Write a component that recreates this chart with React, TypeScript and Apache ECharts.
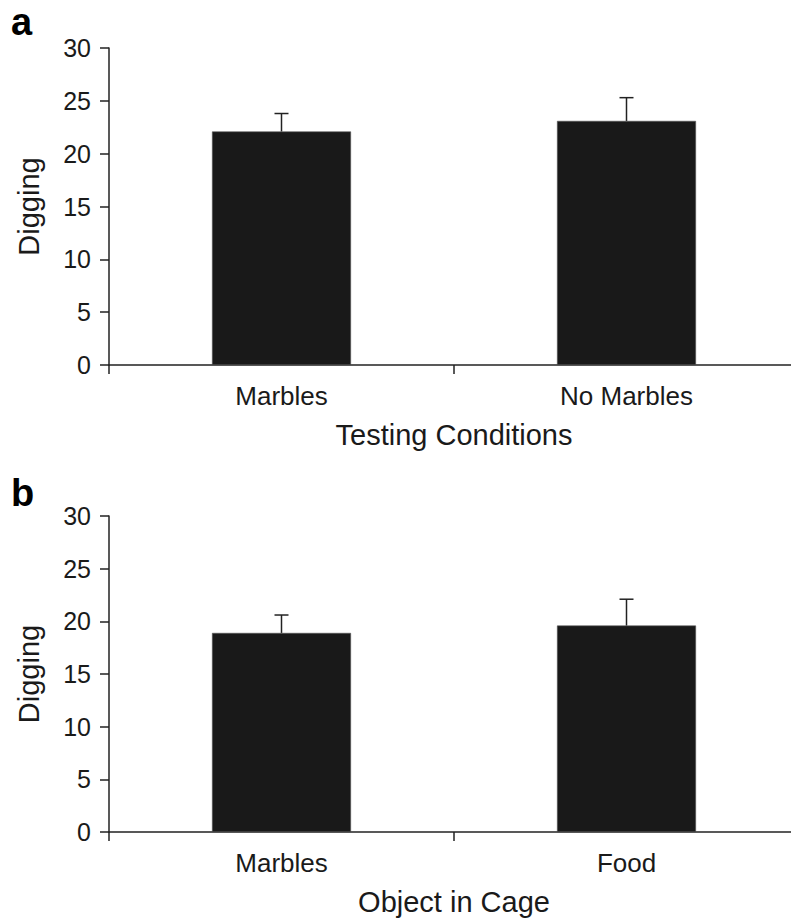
import React, { useEffect, useRef } from "react";
import * as echarts from "echarts";

const categoriesA = ["Marbles", "No Marbles"];
const meansA = [22.1, 23.1];
const errTopA = [23.8, 25.3];
const categoriesB = ["Marbles", "Food"];
const meansB = [18.9, 19.6];
const errTopB = [20.6, 22.1];
const yTicks = [0, 5, 10, 15, 20, 25, 30];
const titleA = "Testing Conditions";
const titleB = "Object in Cage";
const yName = "Digging";

const FONT = "'Liberation Sans', Arial, Helvetica, sans-serif";
const INK = "#1a1a1a";

export default function App() {
  const ref = useRef<HTMLDivElement>(null);
  useEffect(() => {
    if (!ref.current) return;
    const chart = echarts.init(ref.current, undefined, { renderer: "svg" });
    const xAxisBase = (cats: string[], name: string, gridIndex: number) => ({
      type: "category",
      gridIndex,
      data: cats,
      boundaryGap: true,
      name,
      nameLocation: "middle",
      nameGap: 55,
      nameTextStyle: { fontFamily: FONT, fontSize: 29, color: INK },
      axisLine: { show: true, lineStyle: { color: "#222", width: 1.5 } },
      axisTick: { show: true, inside: false, length: 9, alignWithLabel: false, lineStyle: { color: "#222", width: 1.5 } },
      axisLabel: { fontFamily: FONT, fontSize: 26, color: INK, margin: 18 },
      splitLine: { show: false },
    });
    const yAxisBase = (gridIndex: number) => ({
      type: "value",
      gridIndex,
      min: yTicks[0],
      max: yTicks[yTicks.length - 1],
      interval: 5,
      name: yName,
      nameLocation: "middle",
      nameGap: 66,
      nameRotate: 90,
      nameTextStyle: { fontFamily: FONT, fontSize: 29, color: INK },
      axisLine: { show: true, lineStyle: { color: "#222", width: 1.5 } },
      axisTick: { show: true, inside: false, length: 9, lineStyle: { color: "#222", width: 1.5 } },
      axisLabel: { fontFamily: FONT, fontSize: 25, color: INK, margin: 18 },
      splitLine: { show: false },
    });
    const errRender = (params: any, api: any) => {
      const x = api.value(0);
      const base = api.coord([x, api.value(1)]);
      const top = api.coord([x, api.value(2)]);
      const style = { stroke: "#222", lineWidth: 1.5 };
      return {
        type: "group",
        children: [
          { type: "line", shape: { x1: top[0], y1: base[1], x2: top[0], y2: top[1] }, style },
          { type: "line", shape: { x1: top[0] - 7, y1: top[1], x2: top[0] + 7, y2: top[1] }, style },
        ],
      };
    };
    chart.setOption({
      animation: false,
      backgroundColor: "#ffffff",
      grid: [
        { left: 109, top: 48, width: 690, height: 317, outerBoundsMode: "none", containLabel: false },
        { left: 109, top: 516, width: 690, height: 316, outerBoundsMode: "none", containLabel: false },
      ],
      xAxis: [xAxisBase(categoriesA, titleA, 0), xAxisBase(categoriesB, titleB, 1)],
      yAxis: [yAxisBase(0), yAxisBase(1)],
      graphic: [
        { type: "text", left: 11, top: 3, style: { text: "a", fontFamily: FONT, fontWeight: "bold", fontSize: 38, fill: "#000" } },
        { type: "text", left: 11, top: 474, style: { text: "b", fontFamily: FONT, fontWeight: "bold", fontSize: 38, fill: "#000" } },
      ],
      series: [
        {
          type: "bar",
          xAxisIndex: 0,
          yAxisIndex: 0,
          data: meansA,
          barWidth: 139,
          itemStyle: { color: "#191919", borderColor: "#555", borderWidth: 0.6 },
          z: 2,
        },
        {
          type: "custom",
          xAxisIndex: 0,
          yAxisIndex: 0,
          data: categoriesA.map((_, i) => [i, meansA[i], errTopA[i]]),
          encode: { x: 0, y: [1, 2] },
          renderItem: errRender,
          z: 3,
        },
        {
          type: "bar",
          xAxisIndex: 1,
          yAxisIndex: 1,
          data: meansB,
          barWidth: 139,
          itemStyle: { color: "#191919", borderColor: "#555", borderWidth: 0.6 },
          z: 2,
        },
        {
          type: "custom",
          xAxisIndex: 1,
          yAxisIndex: 1,
          data: categoriesB.map((_, i) => [i, meansB[i], errTopB[i]]),
          encode: { x: 0, y: [1, 2] },
          renderItem: errRender,
          z: 3,
        },
      ],
    });
    return () => chart.dispose();
  }, []);
  return (
    <div
      ref={ref}
      style={{ position: "absolute", left: 0, top: 0, width: 791, height: 923, background: "#fff" }}
    />
  );
}
